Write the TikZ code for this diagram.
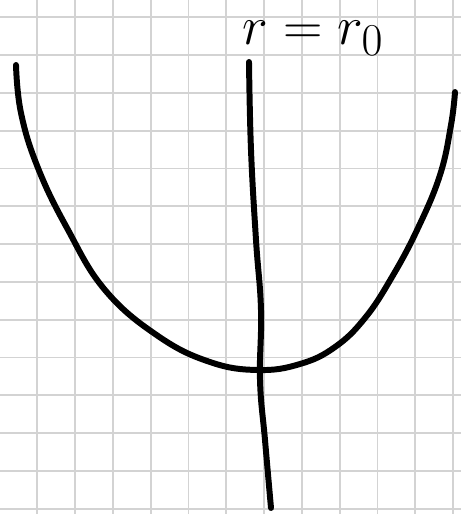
\documentclass[tikz,border=0pt]{standalone}
\usepackage{graphicx}
\usepackage{tikz}
\usetikzlibrary{positioning}
\usepackage{amsmath}
\definecolor{PaperGrid}{RGB}{211,211,211}
\definecolor{InkBlack}{RGB}{0,0,0}

\begin{document}
\begin{tikzpicture}[
  x=0.02cm,y=-0.02cm,
  gridline/.style={draw=PaperGrid,line width=1.1pt},
  pen/.style={draw=InkBlack,line width=3.4pt,line cap=round,line join=round},
  label/.style={font=\Huge,text=InkBlack,inner sep=0pt},
]
\useasboundingbox[fill=white] (0,0) rectangle (461,514);
% squared paper
\foreach \k in {0,...,11}
  \draw[gridline] ({37.3+37.8*\k},0) -- ({37.3+37.8*\k},514);
\foreach \k in {0,...,13}
  \draw[gridline] (0,{17.3+37.8*\k}) -- (461,{17.3+37.8*\k});
% the well
\draw[pen] plot[smooth,tension=0.7] coordinates {
  (16,65) (21,113) (38,168) (67,228) (105,290) (158,336)
  (210,362) (258,370) (300,364) (335,347) (365,318)
  (392,277) (418,228) (440,175) (451,125) (455,92)};
% the line r = r0
\coordinate (top) at (249,62);
\coordinate (bottom) at (271,508);
\draw[pen] plot[smooth,tension=0.7] coordinates {
  (top) (251,150) (256,240) (261,310) (260,380) (265,440) (bottom)};
\node[label] (rlabel) at (313,38) {\scalebox{1.25}{$r=r_0$}};
\end{tikzpicture}
\end{document}
